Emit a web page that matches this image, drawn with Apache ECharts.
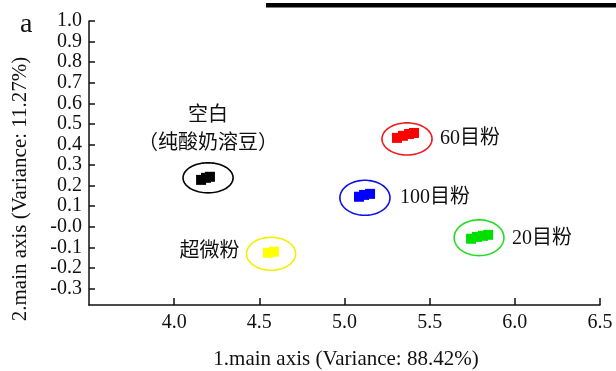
<!DOCTYPE html>
<html>
<head>
<meta charset="utf-8">
<script src="https://cdn.jsdelivr.net/npm/echarts@6/dist/echarts.min.js"></script>
<style>
  html, body { margin: 0; padding: 0; background: #fff; }
  #chart { width: 616px; height: 371px; }
</style>
</head>
<body>
<div id="chart"></div>
<script>
// PCA score plot: replicate scores [PC1, PC2] for each sample group
const groupNames = ['空白\n（纯酸奶溶豆）', '60目粉', '100目粉', '20目粉', '超微粉'];
const blankScores   = [[4.158, 0.228], [4.187, 0.238], [4.210, 0.243]];
const mesh60Scores  = [[5.308, 0.432], [5.343, 0.442], [5.379, 0.451], [5.408, 0.456]];
const mesh100Scores = [[5.085, 0.146], [5.115, 0.155], [5.150, 0.160]];
const mesh20Scores  = [[5.743, -0.058], [5.778, -0.049], [5.813, -0.044], [5.843, -0.039]];
const ultraScores   = [[4.551, -0.126], [4.586, -0.121]];

// confidence ellipses: centre [PC1, PC2] and semi-axes [PC1, PC2]
const ellipseCenters = [[4.199, 0.238], [5.367, 0.427], [5.120, 0.141], [5.790, -0.053], [4.569, -0.131]];
const ellipseRadii   = [[0.147, 0.073], [0.147, 0.078], [0.147, 0.085], [0.146, 0.087], [0.144, 0.080]];

const xTicks = [4.0, 4.5, 5.0, 5.5, 6.0, 6.5];
const yTicks = [1.0, 0.9, 0.8, 0.7, 0.6, 0.5, 0.4, 0.3, 0.2, 0.1, 0.0, -0.1, -0.2, -0.3];
const yTickLabels = ['1.0', '0.9', '0.8', '0.7', '0.6', '0.5', '0.4', '0.3', '0.2', '0.1', '-0.0', '-0.1', '-0.2', '-0.3'];

const xTitle = '1.main axis (Variance: 88.42%)';
const yTitle = '2.main axis (Variance: 11.27%)';

// drawing styles
const groupColors = ['#000000', '#ff0000', '#0000ff', '#00e000', '#ffff00'];
const ringColors  = ['#000000', '#ee1c1c', '#1010e0', '#22dd22', '#f0f000'];
// label placement relative to each ellipse, in pixels
const labelPlacement = [
  { dx: 0, dy: -48, align: 'center' },
  { dx: 8, dy: 0, align: 'left' },
  { dx: 10, dy: 0, align: 'left' },
  { dx: 8, dy: 1, align: 'left' },
  { dx: -7, dy: -2, align: 'right' }
];
const serif = '"Liberation Serif", "Times New Roman", "Noto Sans CJK SC", serif';
const labelFont = '"Liberation Serif", "Noto Sans CJK SC", serif';
const axisColor = '#111';

const scoreSets = [blankScores, mesh60Scores, mesh100Scores, mesh20Scores, ultraScores];

const scatterSeries = scoreSets.map((pts, i) => ({
  type: 'scatter',
  name: groupNames[i],
  data: pts,
  symbol: 'rect',
  symbolSize: 10,
  itemStyle: { color: groupColors[i], opacity: 1 },
  z: 3,
  silent: true
}));

const ellipseData = ellipseCenters.map((c, i) => [c[0], c[1], ellipseRadii[i][0], ellipseRadii[i][1], i]);

const ellipseSeries = {
  type: 'custom',
  data: ellipseData,
  silent: true,
  z: 2,
  renderItem: function (params, api) {
    const i = api.value(4);
    const c = api.coord([api.value(0), api.value(1)]);
    const s = api.size([api.value(2), api.value(3)]);
    const pts = [];
    for (let k = 0; k < 96; k++) {
      const t = (k / 96) * Math.PI * 2;
      pts.push([c[0] + s[0] * Math.cos(t), c[1] + s[1] * Math.sin(t)]);
    }
    const lp = labelPlacement[i];
    let lx = c[0] + lp.dx;
    if (lp.align === 'left') lx += s[0];
    if (lp.align === 'right') lx -= s[0];
    return {
      type: 'group',
      children: [
        {
          type: 'polygon',
          shape: { points: pts },
          style: { fill: 'none', stroke: ringColors[i], lineWidth: 1.6 }
        },
        {
          type: 'text',
          x: lx,
          y: c[1] + lp.dy,
          style: {
            text: groupNames[i],
            fill: '#111',
            font: '20px ' + labelFont,
            align: lp.align,
            verticalAlign: 'middle',
            lineHeight: 28
          }
        }
      ]
    };
  }
};

const chart = echarts.init(document.getElementById('chart'), null, { renderer: 'canvas' });

chart.setOption({
  animation: false,
  backgroundColor: '#fff',
  grid: { left: 89, right: 16, top: 21, bottom: 66, containLabel: false },
  xAxis: {
    type: 'value',
    min: 3.5,
    max: 6.5,
    axisLine: { show: true, onZero: false, lineStyle: { color: axisColor, width: 1.5 } },
    axisTick: { show: true, inside: true, length: 7, customValues: xTicks, lineStyle: { color: axisColor, width: 1.5 } },
    axisLabel: {
      customValues: xTicks,
      formatter: v => v.toFixed(1),
      fontFamily: serif,
      fontSize: 20,
      color: '#111',
      margin: 8
    },
    splitLine: { show: false }
  },
  yAxis: {
    type: 'value',
    min: -0.38,
    max: 1.0,
    axisLine: { show: true, onZero: false, lineStyle: { color: axisColor, width: 1.5 } },
    axisTick: { show: true, inside: true, length: 6, customValues: yTicks, lineStyle: { color: axisColor, width: 1.5 } },
    axisLabel: {
      customValues: yTicks,
      formatter: v => {
        const k = yTicks.findIndex(t => Math.abs(t - v) < 1e-6);
        return k >= 0 ? yTickLabels[k] : '';
      },
      fontFamily: serif,
      fontSize: 20,
      color: '#111',
      margin: 7
    },
    splitLine: { show: false }
  },
  graphic: [
    { type: 'rect', shape: { x: 266, y: 3, width: 360, height: 4.5 }, style: { fill: '#000' } },
    { type: 'text', x: 20, y: 25, style: { text: 'a', font: '28px ' + serif, fill: '#111', align: 'left', verticalAlign: 'middle' } },
    { type: 'text', x: 346, y: 359, style: { text: xTitle, font: '21px ' + serif, fill: '#111', align: 'center', verticalAlign: 'middle' } },
    { type: 'text', x: 20, y: 189, rotation: Math.PI / 2, style: { text: yTitle, font: '21px ' + serif, fill: '#111', align: 'center', verticalAlign: 'middle' } }
  ],
  series: [ellipseSeries].concat(scatterSeries)
});
</script>
</body>
</html>
